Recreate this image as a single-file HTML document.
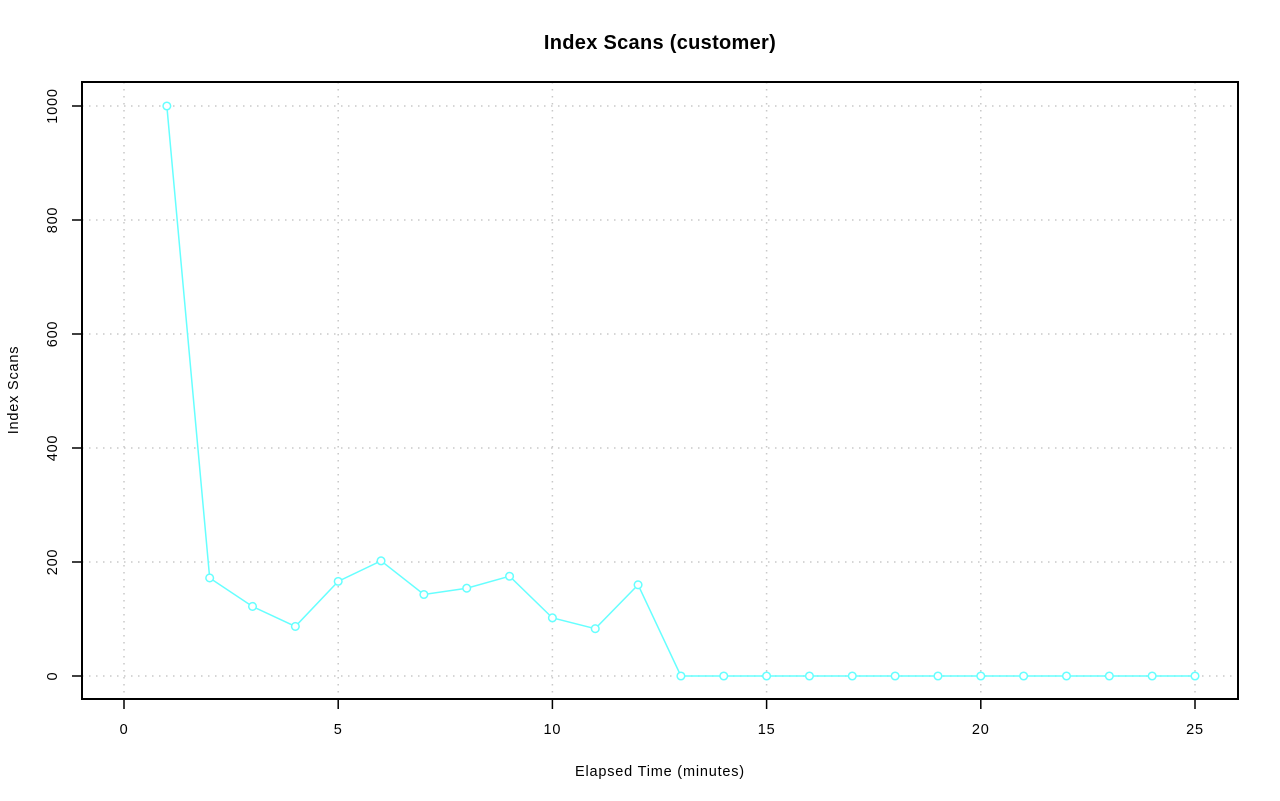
<!DOCTYPE html>
<html><head><meta charset="utf-8"><style>html,body{margin:0;padding:0;background:#fff}svg{display:block}</style></head>
<body>
<svg width="1280" height="801" xmlns="http://www.w3.org/2000/svg" font-family="Liberation Sans, Arial, sans-serif">
<g stroke="#c8c8c8" stroke-width="1.5" stroke-dasharray="1.5,5.5">
<line x1="124" y1="82" x2="124" y2="699"/><line x1="338.2" y1="82" x2="338.2" y2="699"/><line x1="552.4" y1="82" x2="552.4" y2="699"/><line x1="766.6" y1="82" x2="766.6" y2="699"/><line x1="980.8" y1="82" x2="980.8" y2="699"/><line x1="1195" y1="82" x2="1195" y2="699"/>
<line x1="82" y1="676" x2="1238" y2="676"/><line x1="82" y1="562" x2="1238" y2="562"/><line x1="82" y1="448" x2="1238" y2="448"/><line x1="82" y1="334" x2="1238" y2="334"/><line x1="82" y1="220" x2="1238" y2="220"/><line x1="82" y1="106" x2="1238" y2="106"/>
</g>
<polyline fill="none" stroke="#66ffff" stroke-width="1.5" points="166.84,106 209.68,577.96 252.52,606.46 295.36,626.41 338.2,581.38 381.04,560.86 423.88,594.49 466.72,588.22 509.56,576.25 552.4,617.86 595.24,628.69 638.08,584.8 680.92,676 1195,676"/>
<g fill="#fff" stroke="#66ffff" stroke-width="1.5">
<circle cx="166.84" cy="106" r="3.8"/><circle cx="209.68" cy="577.96" r="3.8"/><circle cx="252.52" cy="606.46" r="3.8"/><circle cx="295.36" cy="626.41" r="3.8"/><circle cx="338.2" cy="581.38" r="3.8"/><circle cx="381.04" cy="560.86" r="3.8"/><circle cx="423.88" cy="594.49" r="3.8"/><circle cx="466.72" cy="588.22" r="3.8"/><circle cx="509.56" cy="576.25" r="3.8"/><circle cx="552.4" cy="617.86" r="3.8"/><circle cx="595.24" cy="628.69" r="3.8"/><circle cx="638.08" cy="584.8" r="3.8"/>
<circle cx="680.92" cy="676" r="3.8"/><circle cx="723.76" cy="676" r="3.8"/><circle cx="766.6" cy="676" r="3.8"/><circle cx="809.44" cy="676" r="3.8"/><circle cx="852.28" cy="676" r="3.8"/><circle cx="895.12" cy="676" r="3.8"/><circle cx="937.96" cy="676" r="3.8"/><circle cx="980.8" cy="676" r="3.8"/><circle cx="1023.64" cy="676" r="3.8"/><circle cx="1066.48" cy="676" r="3.8"/><circle cx="1109.32" cy="676" r="3.8"/><circle cx="1152.16" cy="676" r="3.8"/><circle cx="1195" cy="676" r="3.8"/>
</g>
<rect x="82" y="82" width="1156" height="617" fill="none" stroke="#000" stroke-width="2"/>
<g stroke="#000" stroke-width="1.5">
<line x1="124" y1="699" x2="124" y2="709"/><line x1="338.2" y1="699" x2="338.2" y2="709"/><line x1="552.4" y1="699" x2="552.4" y2="709"/><line x1="766.6" y1="699" x2="766.6" y2="709"/><line x1="980.8" y1="699" x2="980.8" y2="709"/><line x1="1195" y1="699" x2="1195" y2="709"/>
<line x1="72" y1="676" x2="82" y2="676"/><line x1="72" y1="562" x2="82" y2="562"/><line x1="72" y1="448" x2="82" y2="448"/><line x1="72" y1="334" x2="82" y2="334"/><line x1="72" y1="220" x2="82" y2="220"/><line x1="72" y1="106" x2="82" y2="106"/>
</g>
<g font-size="14.5" text-anchor="middle" fill="#000" letter-spacing="0.8">
<text x="124" y="734">0</text><text x="338.2" y="734">5</text><text x="552.4" y="734">10</text><text x="766.6" y="734">15</text><text x="980.8" y="734">20</text><text x="1195" y="734">25</text>
<text transform="translate(57,676) rotate(-90)">0</text><text transform="translate(57,562) rotate(-90)">200</text><text transform="translate(57,448) rotate(-90)">400</text><text transform="translate(57,334) rotate(-90)">600</text><text transform="translate(57,220) rotate(-90)">800</text><text transform="translate(57,106) rotate(-90)">1000</text>
<text x="660" y="776">Elapsed Time (minutes)</text>
<text transform="translate(18,390) rotate(-90)">Index Scans</text>
<text x="660" y="49" font-size="20" font-weight="bold" letter-spacing="0.3">Index Scans (customer)</text>
</g>
</svg>
</body></html>
